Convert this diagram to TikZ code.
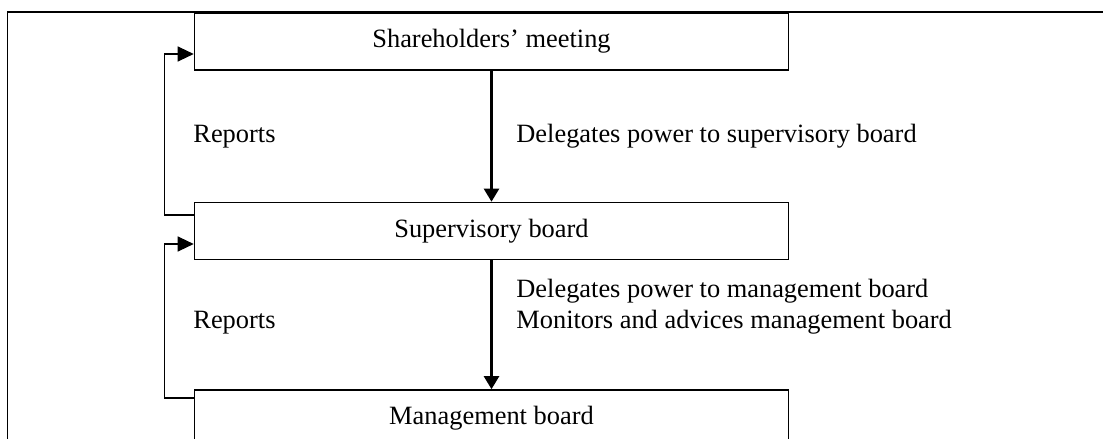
\documentclass[tikz,border=0pt]{standalone}
\usepackage{fontspec}
\setmainfont{Liberation Serif}
\usetikzlibrary{arrows.meta, positioning}

\begin{document}
\begin{tikzpicture}[
    x=0.5pt, y=-0.5pt,
    board/.style={draw, line width=0.8pt, minimum width=297pt, minimum height=28.5pt, inner sep=0pt, font=\fontsize{13.2}{15.5}\selectfont},
    sidelabel/.style={anchor=base west, inner sep=0pt, font=\fontsize{13.2}{15.5}\selectfont},
    delegate/.style={line width=1.2pt, -{Triangle[width=7.5pt,length=6.5pt]}},
    report/.style={line width=0.6pt, -{Triangle[width=7.5pt,length=8pt]}}
]
\clip (0,0) rectangle (1103,439);

% outer frame
\draw[line width=0.8pt] (7.5,439) -- (7.5,12) -- (1103,12);

% boards
\node[board] (share) at (491.5,41.5) {Shareholders’ meeting};
\node[board] (super) at (491.5,231) {Supervisory board};
\node[board] (manage) at (491.5,418.5) {Management board};

% delegation of power
\draw[delegate] (share) -- (super);
\draw[delegate] (super) -- (manage);

% reporting lines
\draw[report] ([yshift=8pt]super.west) -- ++(-14.5pt,0) |- ([yshift=-6.25pt]share.west);
\draw[report] ([yshift=10.25pt]manage.west) -- ++(-14.5pt,0) |- ([yshift=-6.5pt]super.west);

% labels
\node[sidelabel] (rep1) at (193,142) {Reports};
\node[sidelabel] (del1) at (516,142) {Delegates power to supervisory board};
\node[sidelabel] (rep2) at (193,328) {Reports};
\node[sidelabel] (del2) at (516,297) {Delegates power to management board};
\node[sidelabel] (mon2) at (516,328) {Monitors and advices management board};
\end{tikzpicture}
\end{document}
